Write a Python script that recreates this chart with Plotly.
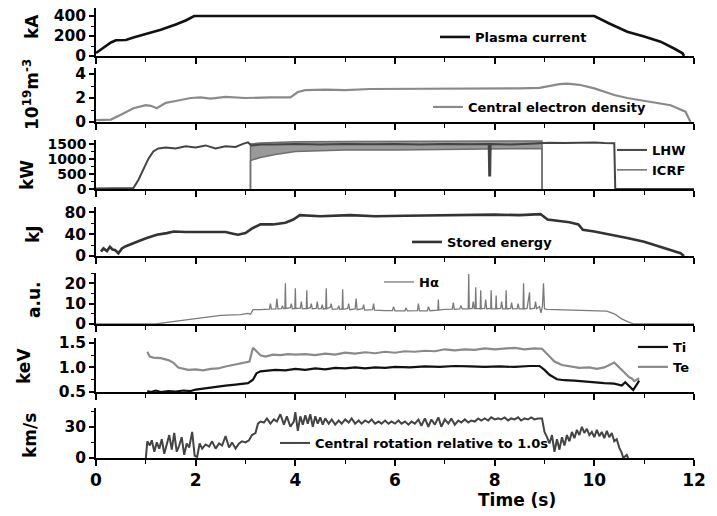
import plotly.graph_objects as go

# ---------------- data ----------------
ip_t = [0, 0.15, 0.3, 0.4, 0.6, 0.75, 1.0, 1.3, 1.6, 1.8, 1.97, 3, 4, 5, 6, 7, 8, 9, 10.0, 10.3, 10.66, 11.0, 11.33, 11.6, 11.77, 11.8]
ip_ka = [30, 80, 135, 158, 160, 185, 220, 262, 315, 355, 400, 400, 400, 400, 400, 402, 404, 400, 400, 325, 243, 195, 143, 75, 27, 0]

ne_t = [0, 0.3, 0.5, 0.75, 1.0, 1.1, 1.22, 1.4, 1.6, 1.9, 2.1, 2.3, 2.6, 3.0, 3.5, 3.9, 4.05, 4.2, 4.6, 5.0, 5.5, 6.0, 6.5, 7.0, 7.5, 8.0, 8.5, 8.9, 9.1, 9.3, 9.46, 9.7, 10.0, 10.4, 10.66, 11.06, 11.53, 11.83, 11.93]
ne_val = [0.15, 0.2, 0.6, 1.15, 1.4, 1.35, 1.15, 1.6, 1.75, 2.0, 2.05, 1.95, 2.1, 2.0, 2.05, 2.05, 2.5, 2.65, 2.7, 2.65, 2.75, 2.75, 2.8, 2.8, 2.75, 2.8, 2.8, 2.85, 3.0, 3.15, 3.2, 3.1, 2.8, 2.25, 2.0, 1.7, 1.4, 0.86, 0]

lhw_t = [0, 0.5, 0.75, 0.85, 0.95, 1.05, 1.15, 1.25, 1.4, 1.6, 1.8, 2.0, 2.2, 2.4, 2.6, 2.8, 2.95, 3.05, 3.12, 3.3, 3.6, 4.0, 4.5, 5.0, 5.5, 6.0, 6.5, 7.0, 7.5, 7.88, 7.89, 7.91, 7.92, 8.3, 8.6, 8.95, 9.1, 9.4, 9.7, 10.0, 10.2, 10.4, 10.42, 10.8, 11.5, 12]
lhw_kw = [20, 20, 30, 300, 650, 1000, 1250, 1350, 1380, 1350, 1420, 1380, 1450, 1350, 1420, 1400, 1500, 1550, 1450, 1480, 1480, 1500, 1480, 1500, 1490, 1500, 1480, 1500, 1490, 1500, 450, 450, 1500, 1480, 1500, 1520, 1540, 1530, 1540, 1550, 1530, 1520, 0, 0, 0, 0]

icrf_t = [3.1, 3.1, 3.3, 3.6, 4.0, 5.0, 6.0, 7.0, 8.0, 8.95, 8.95]
icrf_lo = [0, 950, 1050, 1150, 1250, 1300, 1300, 1320, 1320, 1350, 0]
icrf_hi = [0, 1500, 1530, 1550, 1570, 1580, 1580, 1590, 1590, 1600, 0]

we_t = [0.1, 0.15, 0.22, 0.28, 0.33, 0.38, 0.45, 0.52, 0.6, 0.75, 0.9, 1.02, 1.22, 1.42, 1.56, 1.8, 2.1, 2.4, 2.6, 2.75, 2.85, 3.0, 3.14, 3.3, 3.55, 3.8, 3.96, 4.09, 4.5, 5.1, 5.6, 6.2, 6.8, 7.4, 8.0, 8.5, 8.92, 9.06, 9.3, 9.5, 9.68, 9.77, 10.0, 10.3, 10.66, 11.0, 11.33, 11.55, 11.73, 11.8]
we_kj = [8, 14, 9, 17, 12, 11, 5, 14, 18, 24, 29, 33, 39, 42, 45, 44, 44, 45, 44, 41, 39, 42, 51, 58, 58, 61, 67, 75, 73, 75, 73, 74, 75, 75, 76, 75, 77, 67, 64, 62, 58, 48, 45, 40, 33, 26, 17, 11, 5, 0]

ha_t = [0, 1.2, 1.5, 1.8, 2.1, 2.5, 2.9, 3.05, 3.1, 3.15, 3.3, 3.45,
        3.48, 3.5, 3.52, 3.61, 3.63, 3.65, 3.72, 3.74, 3.76, 3.79, 3.8, 3.81, 3.9, 3.92, 3.94, 3.99, 4.0, 4.01,
        4.1, 4.12, 4.14, 4.22, 4.23, 4.24, 4.3, 4.32, 4.34, 4.42, 4.44, 4.46, 4.52, 4.54, 4.56, 4.61, 4.62, 4.63,
        4.7, 4.72, 4.74, 4.85, 4.87, 4.89, 4.94, 4.95, 4.96, 5.05, 5.07, 5.09, 5.2, 5.22, 5.24, 5.35, 5.37, 5.39,
        5.55, 5.57, 5.59, 5.8, 5.95, 5.97, 6.0, 6.2, 6.22, 6.25, 6.45, 6.47, 6.49, 6.65, 6.67, 6.7, 6.86, 6.87, 6.88,
        7.0, 7.15, 7.17, 7.19, 7.3, 7.32, 7.35, 7.47, 7.48, 7.49, 7.55, 7.57, 7.59, 7.61, 7.62, 7.63, 7.71, 7.72, 7.73,
        7.8, 7.82, 7.84, 7.92, 7.93, 7.94, 8.02, 8.03, 8.04, 8.12, 8.14, 8.16, 8.22, 8.23, 8.24, 8.32, 8.34, 8.36,
        8.45, 8.47, 8.49, 8.57, 8.58, 8.59, 8.65, 8.7, 8.71, 8.8, 8.82, 8.84, 8.9, 8.93, 8.96, 8.98, 9.0, 9.05,
        9.3, 9.7, 10.0, 10.25, 10.4, 10.55, 10.7, 10.8, 12]
ha_au = [0, 0, 1, 2, 3.2, 4.2, 4.6, 5.2, 4.8, 7, 7, 7.2,
         7.3, 10, 7.3, 7.4, 12.5, 7.4, 7.5, 9, 7.5, 7.5, 20, 7.6, 8, 10, 7.5, 7.6, 17.5, 7.6,
         7.8, 11, 7.4, 7.6, 16.5, 7.5, 8, 10, 7.5, 7.6, 11, 7.4, 7.5, 9.5, 7.3, 7.6, 17.5, 7.5,
         8.2, 10, 7.2, 7.4, 9, 7.2, 7.4, 17, 7.2, 7.6, 10, 7, 7.4, 12.5, 7, 7.5, 9.5, 6.8,
         7, 10, 6.8, 6.6, 6.6, 8.5, 6.5, 6.4, 8, 6.4, 6.6, 10, 6.5, 6.4, 8.5, 6.5, 6.8, 12, 6.8,
         7.2, 7.3, 10.5, 7.2, 7.4, 9, 7.4, 7.5, 24.5, 7.5, 7.6, 11, 7.5, 7.6, 18, 7.6, 7.5, 16.5, 7.5,
         7.6, 12, 7.5, 7.6, 16.5, 7.4, 7.5, 14, 7.5, 7.6, 11, 7.4, 7.5, 16.5, 7.5, 7.6, 10.5, 7.4,
         7.5, 10, 7.4, 7.5, 20, 7.4, 7.6, 15.5, 7.4, 7.8, 11, 7.5, 8.5, 5.5, 9, 20, 7.5, 7.2,
         7, 6.8, 6.6, 6.3, 5, 2.5, 0.8, 0, 0]

te_t = [1.03, 1.08, 1.15, 1.3, 1.45, 1.55, 1.65, 1.75, 1.85, 2.0, 2.15, 2.3, 2.45, 2.6, 2.75, 2.9, 3.0, 3.08, 3.15, 3.22, 3.3, 3.4, 3.55, 3.7, 3.85, 4.0, 4.2, 4.4, 4.6, 4.8, 5.0, 5.2, 5.4, 5.6, 5.8, 6.0, 6.2, 6.4, 6.6, 6.8, 7.0, 7.2, 7.4, 7.6, 7.8, 8.0, 8.2, 8.4, 8.6, 8.8, 8.95, 9.05, 9.2, 9.35, 9.5, 9.7, 9.9, 10.05, 10.2, 10.3, 10.4, 10.5, 10.6, 10.7, 10.75, 10.8, 10.9]
te_kev = [1.32, 1.22, 1.2, 1.19, 1.15, 1.1, 1.0, 0.97, 0.95, 0.96, 0.94, 0.97, 0.98, 1.02, 1.05, 1.08, 1.1, 1.12, 1.4, 1.33, 1.25, 1.22, 1.26, 1.25, 1.27, 1.26, 1.27, 1.25, 1.28, 1.26, 1.3, 1.28, 1.31, 1.29, 1.32, 1.3, 1.33, 1.32, 1.34, 1.33, 1.37, 1.35, 1.37, 1.36, 1.39, 1.37, 1.38, 1.4, 1.37, 1.39, 1.38, 1.28, 1.12, 1.05, 1.02, 0.99, 1.0, 0.97, 1.0, 1.05, 1.1, 1.0, 0.9, 0.8, 0.78, 0.72, 0.78]

ti_t = [1.03, 1.1, 1.2, 1.3, 1.45, 1.6, 1.75, 1.9, 2.0, 2.2, 2.4, 2.6, 2.8, 2.95, 3.05, 3.15, 3.22, 3.3, 3.45, 3.6, 3.8, 4.0, 4.2, 4.4, 4.6, 4.8, 5.0, 5.2, 5.4, 5.6, 5.8, 6.0, 6.3, 6.6, 6.9, 7.2, 7.5, 7.8, 8.1, 8.4, 8.7, 8.9, 9.0, 9.1, 9.25, 9.4, 9.6, 9.8, 10.0, 10.2, 10.4, 10.55, 10.62, 10.7, 10.78, 10.85, 10.9]
ti_kev = [0.52, 0.5, 0.53, 0.5, 0.52, 0.51, 0.53, 0.52, 0.55, 0.58, 0.6, 0.63, 0.65, 0.66, 0.68, 0.75, 0.88, 0.92, 0.93, 0.95, 0.94, 0.97, 0.95, 0.98, 0.96, 0.99, 0.98, 1.0, 0.98, 1.0, 0.99, 1.01, 1.0, 1.02, 1.01, 1.03, 1.02, 1.01, 1.02, 1.01, 1.03, 1.03, 0.95, 0.85, 0.76, 0.74, 0.73, 0.71, 0.7, 0.68, 0.67, 0.63, 0.7, 0.62, 0.54, 0.65, 0.73]

rot_t = [1.0, 1.03, 1.08, 1.12, 1.17, 1.22, 1.27, 1.32, 1.37, 1.42, 1.47, 1.52, 1.57, 1.62, 1.67, 1.72, 1.77, 1.82, 1.87, 1.93, 1.98, 2.03, 2.08, 2.13, 2.2, 2.27, 2.33, 2.4, 2.47, 2.53, 2.6, 2.67, 2.73, 2.8, 2.87, 2.93, 3.0, 3.07, 3.13, 3.2, 3.25, 3.3, 3.37, 3.43, 3.5, 3.57, 3.63, 3.7, 3.77, 3.83, 3.9, 3.97, 4.0, 4.05, 4.1, 4.15, 4.2, 4.25, 4.3, 4.35, 4.4, 4.45, 4.5, 4.55, 4.6, 4.67, 4.73, 4.8, 4.87, 4.93, 5.0, 5.07, 5.13, 5.2, 5.27, 5.33, 5.4, 5.47, 5.53, 5.6, 5.67, 5.73, 5.8, 5.87, 5.93, 6.0, 6.07, 6.13, 6.2, 6.27, 6.33, 6.4, 6.47, 6.53, 6.6, 6.67, 6.73, 6.8, 6.87, 6.93, 7.0, 7.07, 7.13, 7.2, 7.27, 7.33, 7.4, 7.47, 7.53, 7.6, 7.67, 7.73, 7.8, 7.87, 7.93, 8.0, 8.07, 8.13, 8.2, 8.27, 8.33, 8.4, 8.47, 8.53, 8.6, 8.67, 8.73, 8.8, 8.87, 8.95, 9.0, 9.05, 9.1, 9.15, 9.2, 9.25, 9.3, 9.35, 9.4, 9.45, 9.5, 9.55, 9.6, 9.65, 9.7, 9.75, 9.8, 9.85, 9.9, 9.95, 10.0, 10.05, 10.1, 10.15, 10.2, 10.25, 10.3, 10.35, 10.4, 10.45, 10.5, 10.55, 10.58, 10.65, 10.68]
rot_kms = [0, 16, 12, 17, 6, 15, 9, 18, 4, 14, 22, 8, 24, 6, 12, 20, 3, 14, 10, 25, 2, 1, 14, 9, 13, 11, 16, 9, 14, 12, 21, 10, 15, 9, 14, 16, 15, 17, 22, 24, 33, 35, 34, 38, 33, 37, 35, 42, 32, 40, 30, 35, 44, 26, 40, 32, 41, 33, 42, 30, 40, 33, 39, 32, 38, 33, 37, 32, 36, 33, 37, 34, 38, 33, 36, 33, 36, 34, 37, 33, 35, 33, 36, 33, 35, 33, 36, 33, 35, 32, 35, 33, 37, 31, 38, 30, 37, 32, 39, 30, 37, 33, 38, 32, 36, 34, 37, 34, 36, 35, 38, 36, 38, 36, 39, 37, 38, 37, 39, 36, 38, 37, 39, 36, 38, 37, 39, 37, 38, 38, 25, 20, 14, 22, 6, 18, 8, 20, 12, 22, 16, 25, 19, 27, 22, 30, 24, 28, 22, 25, 20, 27, 21, 25, 19, 26, 20, 24, 16, 18, 10, 5, 0, 3, 0]

x_ticks = [0, 2, 4, 6, 8, 10, 12]

# ---------------- layout helpers ----------------
# The page body has an 8 px margin, so the figure is drawn at (8, 8) in the
# window; coordinates below are given in window pixels of the reference.
OFF = 8
W, H = 717 - OFF, 516 - OFF
X0, X1 = 96, 694          # plot area, window px
Y0, Y1 = 8, 458
ML, MR = X0 - OFF, W - (X1 - OFF)
MT, MB = Y0 - OFF, H - (Y1 - OFF)


def xp(px):
    return (px - X0) / (X1 - X0)


def yp(py):
    return (Y1 - py) / (Y1 - Y0)


panels = [(8, 56), (68, 122), (140, 189), (207, 256), (273, 324), (338, 392), (408, 458)]
yranges = [[0, 480], [0, 4.5], [0, 1630], [0, 90], [0, 25], [0.5, 1.6], [0, 48]]
ytickvals = [[0, 200, 400], [0, 2, 4], [0, 500, 1000, 1500], [0, 40, 80], [0, 10, 20], [0.5, 1.0, 1.5], [0, 30]]
yticktext = [None, None, None, None, None, ["0.5", "1.0", "1.5"], None]
yminor = [100, 1, 250, 20, 5, 0.25, 15]
ytickfs = [15.5, 15.5, 14, 15.5, 15.5, 15.5, 15.5]

BOLD = dict(family="DejaVu Sans", weight="bold", color="black")

fig = go.Figure()


def add(x, y, i, name, color, width=2.0, legend=None, showlegend=True, rank=None, **kw):
    fig.add_trace(go.Scatter(
        x=x, y=y, mode="lines", name=name,
        line=dict(color=color, width=width),
        xaxis="x" if i == 1 else f"x{i}", yaxis="y" if i == 1 else f"y{i}",
        legend=legend if legend else "legend",
        showlegend=showlegend, legendrank=rank if rank else 1000, **kw))


add(ip_t, ip_ka, 1, "Plasma current", "#111111", 2.6, legend="legend")
add(ne_t, ne_val, 2, "Central electron density", "#8a8a8a", 2.2, legend="legend2")
add(icrf_t, icrf_lo, 3, "ICRF", "#6f6f6f", 1.5, legend="legend3", rank=2)
add(icrf_t, icrf_hi, 3, "ICRF band", "#6f6f6f", 1.5, legend="legend3", showlegend=False,
    fill="tonexty", fillcolor="#9a9a9a")
add(lhw_t, lhw_kw, 3, "LHW", "#444444", 2.0, legend="legend3", rank=1)
add(we_t, we_kj, 4, "Stored energy", "#333333", 2.6, legend="legend4")
add(ha_t, ha_au, 5, "Hα", "#7a7a7a", 1.3, legend="legend5")
add(ti_t, ti_kev, 6, "Ti", "#111111", 2.2, legend="legend6", rank=1)
add(te_t, te_kev, 6, "Te", "#8a8a8a", 2.2, legend="legend6", rank=2)
add(rot_t, rot_kms, 7, "Central rotation relative to 1.0s", "#444444", 2.0, legend="legend7")

layout = dict(
    width=W, height=H,
    margin=dict(l=ML, r=MR, t=MT, b=MB, autoexpand=False),
    paper_bgcolor="white", plot_bgcolor="white",
    font=dict(family="DejaVu Sans", color="black"),
)

for i in range(1, 8):
    sx = "" if i == 1 else str(i)
    top, bot = panels[i - 1]
    layout[f"xaxis{sx}"] = dict(
        domain=[0, 1], anchor=f"y{sx}", range=[0, 12], automargin=False,
        showline=True, linecolor="black", linewidth=1.6,
        ticks="outside", ticklen=6, tickwidth=1.6, tickcolor="black",
        tickvals=x_ticks, showticklabels=(i == 7), ticklabeloverflow="allow",
        tickfont=dict(size=17, **BOLD),
        minor=dict(dtick=1, ticks="outside", ticklen=4, tickwidth=1.4, tickcolor="black"),
        showgrid=False, zeroline=False,
    )
    if i > 1:
        layout[f"xaxis{sx}"]["matches"] = "x"
    yax = dict(
        domain=[yp(bot), yp(top)], anchor=f"x{sx}", range=yranges[i - 1], automargin=False,
        showline=True, linecolor="black", linewidth=1.6,
        ticks="outside", ticklen=5, tickwidth=1.6, tickcolor="black",
        tickvals=ytickvals[i - 1], ticklabeloverflow="allow",
        tickfont=dict(size=ytickfs[i - 1], **BOLD),
        minor=dict(dtick=yminor[i - 1], ticks="outside", ticklen=3, tickwidth=1.3, tickcolor="black"),
        showgrid=False, zeroline=False,
    )
    if yticktext[i - 1]:
        yax["ticktext"] = yticktext[i - 1]
    layout[f"yaxis{sx}"] = yax

# legends (one per panel); position = where the legend text starts
leg_font = dict(size=13, **BOLD)
leg_pos = {
    "legend": (475, 37),
    "legend2": (468, 107),
    "legend3": (652, 160),
    "legend4": (447, 242),
    "legend5": (419, 282),
    "legend6": (673, 357),
    "legend7": (315, 443),
}
for key, (tx, ty) in leg_pos.items():
    layout[key] = dict(
        x=xp(tx - 40), y=yp(ty), xanchor="left", yanchor="middle",
        xref="paper", yref="paper",
        bgcolor="rgba(0,0,0,0)", borderwidth=0, font=leg_font,
        itemwidth=30, tracegroupgap=0, traceorder="normal",
    )

fig.update_layout(**layout)

titles = [
    ("kA", 32, 27), ("10<sup>19</sup>m<sup>-3</sup>", 31, 95), ("kW", 27, 175),
    ("kJ", 33, 234), ("a.u.", 34, 300), ("keV", 24, 366), ("km/s", 30, 436),
]
for txt, tx, ty in titles:
    fig.add_annotation(text=txt, x=xp(tx), y=yp(ty), xref="paper", yref="paper",
                       textangle=-90, showarrow=False, xanchor="center", yanchor="middle",
                       font=dict(size=17, **BOLD))

fig.add_annotation(text="Time (s)", x=xp(517), y=yp(500), xref="paper", yref="paper",
                   showarrow=False, xanchor="center", yanchor="middle",
                   font=dict(size=17, **BOLD))

fig.write_html("out.html")
